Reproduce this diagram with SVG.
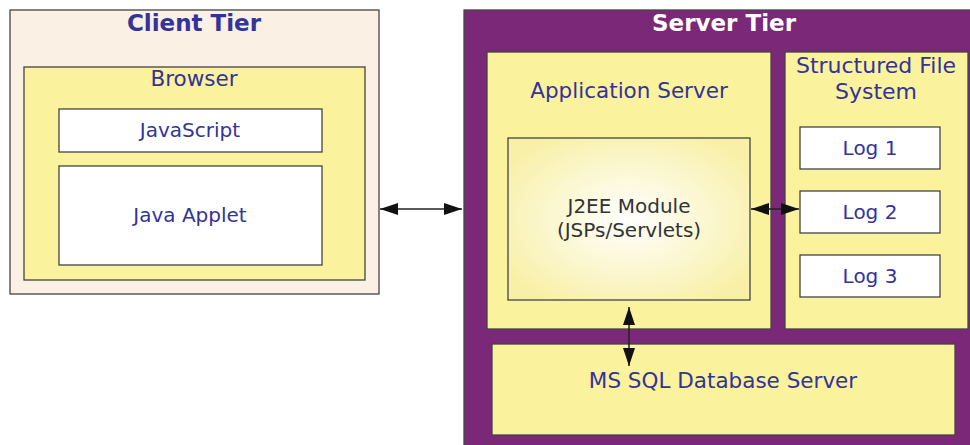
<svg xmlns="http://www.w3.org/2000/svg" width="970" height="445" viewBox="0 0 970 445">
<style>
  .box{stroke:#444;stroke-width:1.3}
  .yel{fill:#faf29c}
  .wht{fill:#fff}
  .t{font-family:"DejaVu Sans",Verdana,sans-serif;font-size:20px;fill:#333399;text-anchor:middle}
  .tl{font-size:21.5px}
  .title{font-family:"DejaVu Sans",Verdana,sans-serif;font-size:23px;font-weight:bold;text-anchor:middle}
  .conn{stroke:#222;stroke-width:1.5;fill:none;marker-start:url(#ah);marker-end:url(#ah)}
</style>
<defs>
  <marker id="ah" viewBox="0 0 18 12" refX="18" refY="6" markerWidth="18" markerHeight="12" markerUnits="userSpaceOnUse" orient="auto-start-reverse">
    <path d="M0,0 L18,6 L0,12 z" fill="#111"/>
  </marker>
  <radialGradient id="rg" cx="0.5" cy="0.5" r="0.6">
    <stop offset="0" stop-color="#ffffff"/>
    <stop offset="1" stop-color="#f8f0a8"/>
  </radialGradient>
</defs>
<g id="client-tier">
  <rect class="box" x="10" y="10" width="369" height="284" fill="#faf0e4"/>
  <text class="title" x="194" y="31" fill="#333399">Client Tier</text>
</g>
<g id="browser">
  <rect class="box yel" x="24" y="67" width="341" height="213"/>
  <text class="t tl" x="194" y="86">Browser</text>
</g>
<g id="javascript">
  <rect class="box wht" x="59" y="109" width="263" height="43"/>
  <text class="t" x="190" y="137">JavaScript</text>
</g>
<g id="java-applet">
  <rect class="box wht" x="59" y="166" width="263" height="99"/>
  <text class="t" x="190" y="222">Java Applet</text>
</g>
<g id="server-tier">
  <rect class="box" x="464" y="10" width="510" height="440" fill="#7b2878"/>
  <text class="title" x="724" y="31" fill="#ffffff">Server Tier</text>
</g>
<g id="application-server">
  <rect class="box yel" x="487" y="52" width="284" height="277"/>
  <text class="t tl" x="629" y="98">Application Server</text>
</g>
<g id="j2ee-module">
  <rect class="box" x="508" y="138" width="242" height="162" fill="url(#rg)"/>
  <text class="t" x="629" y="213" style="fill:#333">J2EE Module</text>
  <text class="t" x="629" y="237" style="fill:#333">(JSPs/Servlets)</text>
</g>
<g id="structured-file-system">
  <rect class="box yel" x="785" y="52" width="183" height="277"/>
  <text class="t" x="876" y="73" style="font-size:22px">Structured File</text>
  <text class="t" x="876" y="99" style="font-size:22px">System</text>
</g>
<g id="log1">
  <rect class="box wht" x="800" y="127" width="140" height="42"/>
  <text class="t" x="870" y="155">Log 1</text>
</g>
<g id="log2">
  <rect class="box wht" x="800" y="191" width="140" height="42"/>
  <text class="t" x="870" y="219">Log 2</text>
</g>
<g id="log3">
  <rect class="box wht" x="800" y="255" width="140" height="42"/>
  <text class="t" x="870" y="283">Log 3</text>
</g>
<g id="ms-sql">
  <rect class="box yel" x="492" y="344" width="463" height="91"/>
  <text class="t tl" x="723" y="388">MS SQL Database Server</text>
</g>
<g id="connectors">
  <line class="conn" x1="380" y1="209" x2="462" y2="209"/>
  <line class="conn" x1="751" y1="209" x2="799" y2="209"/>
  <line class="conn" x1="629" y1="307" x2="629" y2="366"/>
</g>
</svg>
